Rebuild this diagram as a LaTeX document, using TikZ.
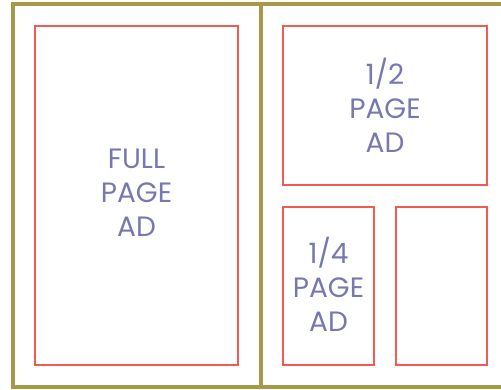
\documentclass[tikz,border=0pt]{standalone}
\usepackage{fontspec}
\setmainfont{Poppins}
\definecolor{gold}{RGB}{168,152,74}
\definecolor{adred}{RGB}{240,92,82}
\definecolor{adtext}{RGB}{120,120,176}
\begin{document}
\begin{tikzpicture}[x=1pt,y=-1pt,
  adbox/.style={draw=adred,line width=2.4pt,inner sep=0pt,outer sep=0pt},
  adlabel/.style={text=adtext,font=\fontsize{28}{34}\selectfont,align=center,inner sep=0pt},
  frame/.style={draw=gold,line width=4.5pt}]
\useasboundingbox (0,0) rectangle (501,390);
\fill[white] (0,0) rectangle (501,390);
% frame
\coordinate (tr) at (501,4);
\coordinate (tl) at (13,4);
\coordinate (bl) at (13,387);
\coordinate (br) at (501,387);
\coordinate (dt) at (261,4);
\coordinate (db) at (261,387);
\draw[frame] (tr) -- (tl) -- (bl) -- (br);
\draw[frame] (dt) -- (db);
% ad boxes
\node[adbox,minimum width=203pt,minimum height=339pt] (full) at (136.5,195.5) {};
\node[adbox,minimum width=204pt,minimum height=159pt] (half) at (385,105.5) {};
\node[adbox,minimum width=91pt,minimum height=158pt] (quarter) at (328.5,286) {};
\node[adbox,minimum width=91pt,minimum height=158pt] (empty) at (441.5,286) {};
% labels
\node[adlabel] (fulltext) at ([yshift=3pt]full.center) {FULL\\PAGE\\AD};
\node[adlabel] (halftext) at (half.center) {1/2\\PAGE\\AD};
\node[adlabel] (quartertext) at ([yshift=1.5pt]quarter.center) {1/4\\PAGE\\AD};
\end{tikzpicture}
\end{document}
